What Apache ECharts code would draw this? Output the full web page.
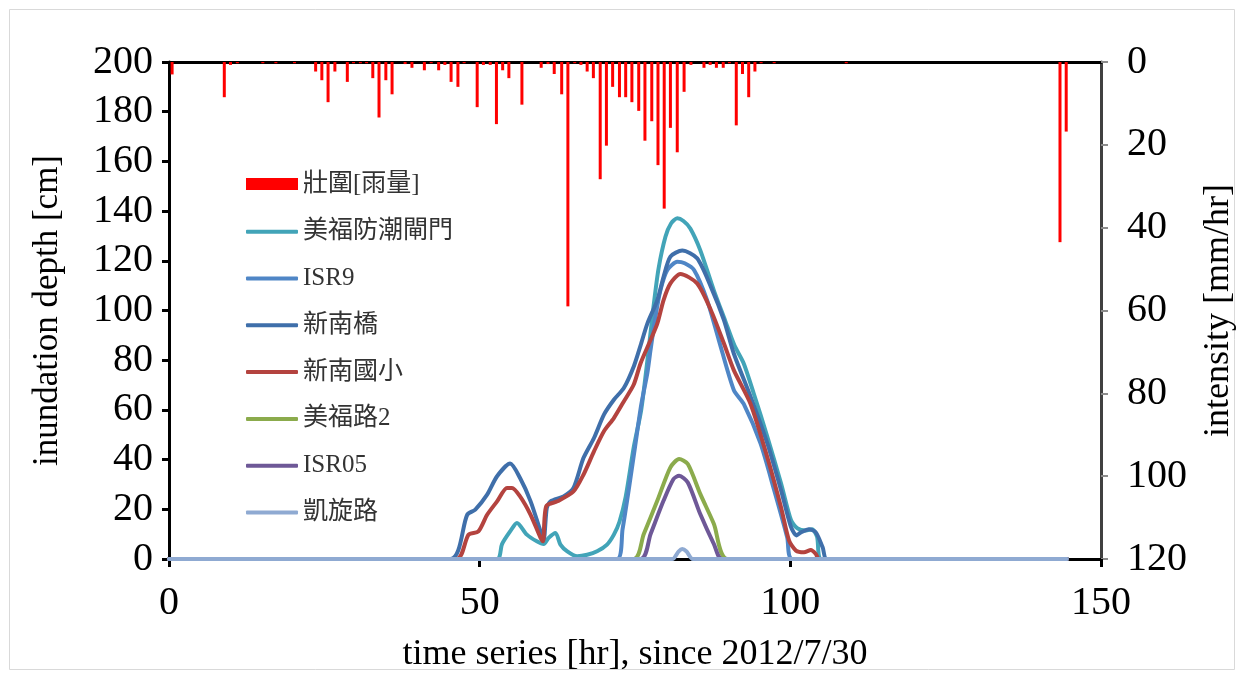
<!DOCTYPE html>
<html>
<head>
<meta charset="utf-8">
<title>inundation depth</title>
<script src="https://cdn.jsdelivr.net/npm/echarts@6/dist/echarts.min.js"></script>
<style>
  html, body { margin: 0; padding: 0; background: #fff; }
  #main { width: 1243px; height: 673px; }
</style>
</head>
<body>
<div id="main"></div>
<script>
// 壯圍 rainfall (hr, mm/hr)
const rainT = [0.5, 8.9, 9.9, 11.0, 15.1, 17.2, 20.2, 23.6, 24.6, 25.6, 26.7, 28.7, 29.7, 30.8, 31.8, 32.8, 33.8, 34.9, 35.9,
  38.0, 39.1, 41.1, 42.2, 43.4, 44.4, 45.4, 46.5, 47.5, 49.6, 50.6, 51.7, 52.7, 53.7, 54.7, 56.8, 59.9, 61.0, 62.0, 63.2,
  64.2, 65.3, 66.3, 67.3, 68.3, 69.4, 70.4, 71.4, 72.5, 73.5, 74.5, 75.6, 76.6, 77.7, 78.7, 79.7, 80.7, 81.8, 82.9, 84.0,
  86.1, 87.1, 88.1, 89.2, 90.2, 91.3, 92.3, 93.3, 94.3, 95.3, 97.4, 109.0, 143.4, 144.4];
const rainV = [3, 8.5, 0.7, 0.3, 0.3, 0.3, 0.3, 2.3, 4.4, 9.7, 2.3, 4.8, 0.3, 0.3, 0.3, 3.9, 13.4, 4.4, 7.8,
  0.5, 1.4, 2, 0.3, 2, 0.7, 4.8, 6, 0.3, 10.9, 0.7, 0.7, 15, 2, 3.9, 10.3, 1.4, 0.5, 2.9, 7.8,
  59, 0.3, 0.7, 2.3, 3.9, 28.3, 20.2, 6, 8.5, 8.5, 9.7, 11.8, 19, 14.3, 24.9, 35.4, 15.9, 21.8, 7.2, 0.7,
  1.4, 0.7, 1.4, 1.4, 0.3, 15.3, 2.9, 8.5, 2.3, 0.3, 0.3, 0.3, 43.5, 16.8];

// 美福防潮閘門
const gateT = [0, 52.8, 53.6, 54.9, 56.0, 57.6, 59.2, 60.3, 61.1, 62.2, 63.0, 64.1, 65.7, 67.3, 68.9, 70.5, 71.6, 72.5, 73.5,
  74.8, 76.0, 77.0, 78.0, 78.8, 79.9, 80.8, 81.8, 82.8, 83.9, 85.5, 87.7, 89.5, 91.0, 92.5, 94.1, 96.3, 98.5, 100.1, 101.1,
  102.5, 103.5, 104.3, 105.0, 144.5];
const gateD = [0, 0, 6, 11.1, 14.5, 9.8, 7.1, 6, 8.5, 10.5, 5.8, 3.1, 1.1, 1.7, 3.1, 5.8, 9.8, 15, 25,
  45, 60, 80, 102, 117, 129.7, 135, 137.1, 136, 133, 124.3, 108, 96, 86, 78.7, 66.7, 49.2, 30.5, 15.7, 12.4,
  11.5, 12, 9, 0, 0];

// ISR9
const isr9T = [0, 72.1, 73.0, 74.0, 75.0, 76.0, 77.0, 77.5, 78.3, 79.1, 80.2, 81.8, 83.0, 84.5, 86.6, 88.5, 90.9, 92.5,
  95.2, 97.4, 99.5, 100.3, 144.5];
const isr9D = [0, 0, 12, 28, 45, 62, 75, 84.1, 97.5, 108.2, 116.3, 119.6, 119, 116.3, 104.2, 88, 68, 62.4,
  46.5, 27.7, 8.7, 0, 0];

// 新南橋
const bridgeT = [0, 45.3, 48.0, 49.3, 51.2, 52.8, 54.9, 56.5, 58.2, 59.8, 60.3, 60.8, 61.4, 63.5, 65.1, 66.7, 68.4, 70.0,
  71.6, 73.2, 74.8, 75.9, 77.0, 78.6, 79.6, 80.7, 82.6, 85.0, 87.2, 89.3, 90.9, 93.6, 96.3, 98.5, 100.1, 101.0, 101.7,
  103.0, 104.1, 105.2, 105.9, 144.5];
const bridgeD = [0, 0, 17.8, 19.9, 25.9, 33.3, 38.4, 32.6, 23.2, 11.1, 7.8, 20.5, 23.2, 25.2, 28.6, 40.6, 48.7, 58.1,
  64.1, 68.8, 77.5, 86, 94.8, 104.2, 113.6, 121.7, 124.1, 121, 109.6, 96.2, 82.7, 65.3, 46.5, 27.7, 12.9, 9.5, 10.7,
  12, 10.7, 4.7, 0, 0];

// 新南國小
const schoolT = [0, 46.3, 48.2, 49.8, 51.2, 52.8, 54.4, 55.2, 56.5, 58.2, 59.8, 60.2, 60.7, 62.5, 65.1, 66.7, 68.4, 70.0,
  71.6, 73.2, 74.8, 75.9, 77.5, 78.6, 79.6, 80.7, 82.3, 85.0, 87.2, 89.3, 90.9, 93.6, 96.3, 98.5, 99.8, 100.9, 102.2,
  103.3, 104.1, 104.6, 144.5];
const schoolD = [0, 0, 9.8, 11.1, 17.8, 23.2, 28.6, 28.6, 25.2, 17.8, 8.5, 7.1, 21.2, 23.2, 27.2, 33.9, 43.3, 51.4,
  56.7, 63.4, 70.2, 78.8, 88.1, 94.8, 104.2, 110.9, 114.7, 110.9, 100.2, 86.8, 76, 62.4, 40.9, 20.8, 7.4, 3.4, 2.7,
  3.6, 2, 0, 0];

// 美福路2
const road2T = [0, 74.8, 76.4, 78.6, 80.7, 82.1, 83.5, 85.5, 87.7, 89.9, 144.5];
const road2D = [0, 0, 10, 23.5, 36.9, 40.2, 38.2, 26.2, 14.1, 0, 0];

// ISR05
const isr05T = [0, 75.9, 77.5, 79.6, 81.2, 82.1, 83.5, 85.5, 87.7, 89.0, 144.5];
const isr05D = [0, 0, 10, 23.5, 32.2, 33.5, 30.8, 18.1, 6, 0, 0];

// 凱旋路
const kaixuanT = [0, 81.0, 82.0, 82.6, 83.3, 84.3, 144.5];
const kaixuanD = [0, 0, 3, 4, 3, 0, 0];

const xTicks = [0, 50, 100, 150];
const lineNames = ['美福防潮閘門', 'ISR9', '新南橋', '新南國小', '美福路2', 'ISR05', '凱旋路'];

function pairs(t, v) {
  return t.map((x, i) => [x, v[i]]);
}

const serif = '"Liberation Serif", "Times New Roman", serif';
const legendFont = '"Liberation Serif", "Noto Sans CJK TC", sans-serif';
const legendText = { fontFamily: legendFont, fontSize: 25, color: '#333', lineHeight: 26 };

function lineSeries(name, color, t, d) {
  return {
    name: name,
    type: 'line',
    data: pairs(t, d),
    symbol: 'none',
    smooth: 0.25,
    lineStyle: { color: color, width: 4, cap: 'round', join: 'round' },
    itemStyle: { color: color },
    xAxisIndex: 0,
    yAxisIndex: 0
  };
}

let myChart = echarts.init(document.getElementById('main'));

myChart.setOption({
  animation: false,
  backgroundColor: '#fff',
  graphic: [{
    type: 'rect',
    shape: { x: 9.5, y: 9.5, width: 1225, height: 660 },
    style: { fill: 'none', stroke: '#d9d9d9', lineWidth: 1 },
    silent: true
  }],
  grid: { left: 169, right: 142, top: 62, bottom: 114, outerBoundsMode: 'none' },
  legend: [{
    // 雨量 bar
    orient: 'vertical',
    left: 241,
    top: 166,
    itemWidth: 52,
    itemHeight: 12,
    icon: 'rect',
    textStyle: legendText,
    data: ['壯圍[雨量]']
  }, {
    // 水深 lines
    orient: 'vertical',
    left: 241,
    top: 213.7,
    itemWidth: 52,
    itemHeight: 4,
    itemGap: 20.8,
    icon: 'roundRect',
    textStyle: legendText,
    data: lineNames
  }],
  xAxis: [{
    type: 'value',
    min: 0,
    max: 150,
    interval: 50,
    name: 'time series [hr], since 2012/7/30',
    nameLocation: 'middle',
    nameGap: 78,
    nameTextStyle: { fontFamily: serif, fontSize: 36, color: '#000' },
    axisLine: { onZero: false, lineStyle: { color: '#000', width: 3 } },
    axisTick: { show: true, length: 8, lineStyle: { color: '#000', width: 3 } },
    axisLabel: {
      margin: 24, fontFamily: serif, fontSize: 40, color: '#000',
      customValues: xTicks
    },
    splitLine: { show: false }
  }, {
    type: 'value',
    position: 'top',
    min: 0,
    max: 150,
    axisLine: { onZero: false, lineStyle: { color: '#000', width: 3 } },
    axisTick: { show: false },
    axisLabel: { show: false },
    splitLine: { show: false }
  }],
  yAxis: [{
    type: 'value',
    min: 0,
    max: 200,
    interval: 20,
    position: 'left',
    name: 'inundation depth [cm]',
    nameLocation: 'middle',
    nameRotate: 90,
    nameGap: 104,
    nameTextStyle: { fontFamily: serif, fontSize: 35, color: '#000' },
    axisLine: { show: true, onZero: false, lineStyle: { color: '#000', width: 3 } },
    axisTick: { show: true, length: 7, lineStyle: { color: '#000', width: 3 } },
    axisLabel: { margin: 16, fontFamily: serif, fontSize: 40, color: '#000' },
    splitLine: { show: false }
  }, {
    type: 'value',
    min: 0,
    max: 120,
    interval: 20,
    inverse: true,
    position: 'right',
    name: 'intensity [mm/hr]',
    nameLocation: 'middle',
    nameRotate: 90,
    nameGap: 100,
    nameTextStyle: { fontFamily: serif, fontSize: 36, color: '#000' },
    axisLine: { show: true, onZero: false, lineStyle: { color: '#404040', width: 3 } },
    axisTick: { show: true, length: 7, lineStyle: { color: '#8c8c8c', width: 2 } },
    axisLabel: { margin: 26, fontFamily: serif, fontSize: 40, color: '#000' },
    splitLine: { show: false }
  }],
  series: [
    {
      name: '壯圍[雨量]',
      type: 'bar',
      data: pairs(rainT, rainV),
      xAxisIndex: 0,
      yAxisIndex: 1,
      barWidth: 3,
      itemStyle: { color: '#ff0000' }
    },
    lineSeries('美福防潮閘門', '#42a4b8', gateT, gateD),
    lineSeries('ISR9', '#4f86c6', isr9T, isr9D),
    lineSeries('新南橋', '#3f6faa', bridgeT, bridgeD),
    lineSeries('新南國小', '#b4433f', schoolT, schoolD),
    lineSeries('美福路2', '#8bab4c', road2T, road2D),
    lineSeries('ISR05', '#6e5897', isr05T, isr05D),
    lineSeries('凱旋路', '#8faad2', kaixuanT, kaixuanD)
  ]
});
</script>
</body>
</html>
